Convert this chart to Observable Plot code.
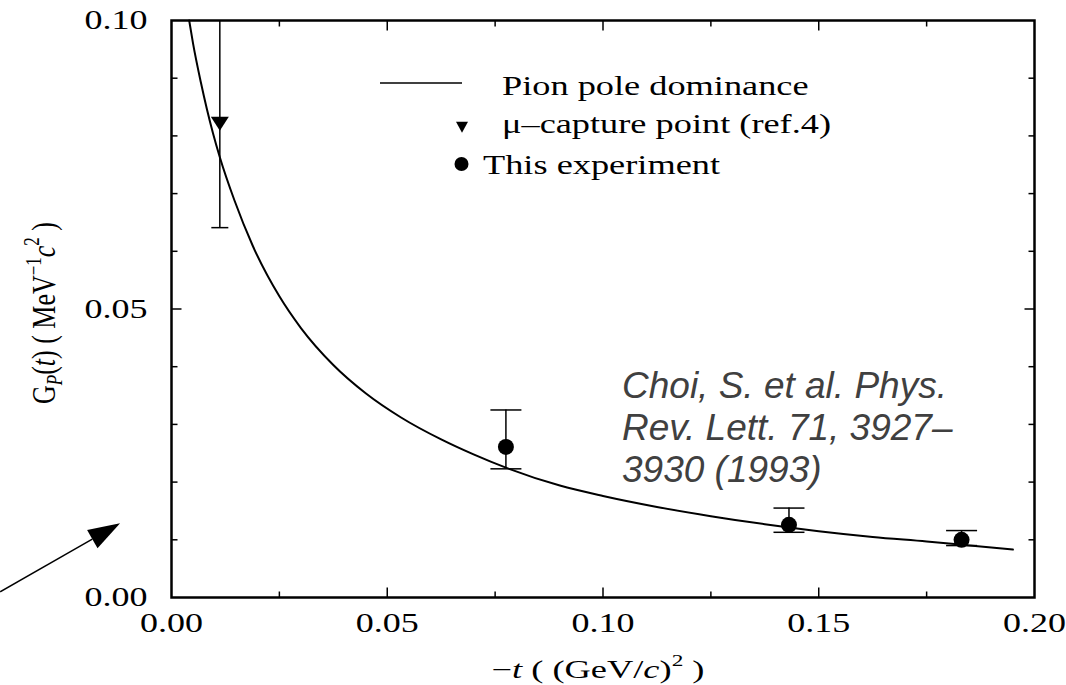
<!DOCTYPE html>
<html><head><meta charset="utf-8">
<script src="https://cdn.jsdelivr.net/npm/d3@7"></script>
<script src="https://cdn.jsdelivr.net/npm/@observablehq/plot@0.6"></script>
<style>
html,body{margin:0;padding:0;background:#fff;}
#chart{width:1066px;height:685px;overflow:hidden;}
</style></head><body><div id="chart"></div>
<script>
// ---- data ----
const curveX = [0.0041, 0.0050, 0.0068, 0.0096, 0.0112, 0.0146, 0.0188, 0.0250, 0.0300, 0.0375, 0.0450, 0.0532, 0.0625, 0.0700, 0.0775, 0.0900, 0.1000, 0.1125, 0.1250, 0.1375, 0.1500, 0.1625, 0.1750, 0.1850, 0.1950];
const curveY = [0.1000, 0.0960, 0.0893, 0.0805, 0.0763, 0.0688, 0.0610, 0.0522, 0.0467, 0.0403, 0.0354, 0.0312, 0.0274, 0.0248, 0.0225, 0.0194, 0.0176, 0.0157, 0.0141, 0.0127, 0.0115, 0.0105, 0.0097, 0.0090, 0.0083];

const muX  = [0.0112];
const muY  = [0.0825];
const muLo = [0.0641];
const muHi = [0.1004];

const expX  = [0.0775, 0.1431, 0.1831];
const expY  = [0.0261, 0.0126, 0.0100];
const expLo = [0.0223, 0.0113, 0.0090];
const expHi = [0.0325, 0.0155, 0.0116];

const xTicks = [0, 0.05, 0.10, 0.15, 0.20];
const yTicks = [0, 0.05, 0.10];
const xMajorInner = [0.05, 0.10, 0.15];
const xMinorInner = [0.025, 0.075, 0.125, 0.175];
const yMajorInner = [0.05];
const yMinorInner = [0.01, 0.02, 0.03, 0.04, 0.06, 0.07, 0.08, 0.09];

const legendLabels = ["Pion pole dominance", "\u03bc\u2013capture point (ref.4)", "This experiment"];
const citationLines = ["Choi, S. et al. Phys.", "Rev. Lett. 71, 3927\u2013", "3930 (1993)"];
const arrowX = [-0.0396, -0.0118];
const arrowY = [0.0009, 0.0128];

// ---- build ----
const serif = "'Liberation Serif', 'Times New Roman', serif";
const sans = "'Liberation Sans', Arial, sans-serif";
const fmt = d3.format(".2f");
const curve = curveX.map((x, i) => ({x, y: curveY[i]}));
const mu = muX.map((x, i) => ({x, y: muY[i], lo: muLo[i], hi: muHi[i]}));
const exp = expX.map((x, i) => ({x, y: expY[i], lo: expLo[i], hi: expHi[i]}));

const seg = (dx, dy) => ({draw(c) { c.moveTo(0, 0); c.lineTo(dx, dy); }});
const cap = hw => ({draw(c) { c.moveTo(-hw, 0); c.lineTo(hw, 0); }});
const invTri = (w, h) => ({draw(c) { c.moveTo(-w / 2, -h / 3); c.lineTo(w / 2, -h / 3); c.lineTo(0, 2 * h / 3); c.closePath(); }});
const tickOpts = {fill: "none", stroke: "black", strokeWidth: 1.5};

const annotations = (index, scales) => {
  const {x, y} = scales;
  const g = d3.create("svg:g");
  // arrow
  const x1 = x(arrowX[0]), y1 = y(arrowY[0]), x2 = x(arrowX[1]), y2 = y(arrowY[1]);
  const a = Math.atan2(y2 - y1, x2 - x1), L = 32, HW = 10.5;
  const bx = x2 - L * Math.cos(a), by = y2 - L * Math.sin(a);
  g.append("line").attr("x1", x1).attr("y1", y1).attr("x2", bx).attr("y2", by)
    .attr("stroke", "black").attr("stroke-width", 1.5);
  g.append("path").attr("fill", "black")
    .attr("d", `M${x2},${y2}L${bx - HW * Math.sin(a)},${by + HW * Math.cos(a)}L${bx + HW * Math.sin(a)},${by - HW * Math.cos(a)}Z`);

  // legend
  const lg = g.append("g").attr("font-family", serif).attr("font-size", 27).attr("fill", "black").attr("text-anchor", "start");
  lg.append("line").attr("x1", 380).attr("x2", 462).attr("y1", 83).attr("y2", 83).attr("stroke", "black").attr("stroke-width", 1.5);
  lg.append("path").attr("transform", "translate(462,125.5)")
    .attr("d", d3.symbol(invTri(12, 11))()).attr("fill", "black");
  lg.append("circle").attr("cx", 461.5).attr("cy", 164).attr("r", 7).attr("fill", "black");
  const lx = [502, 502, 483], ly = [95, 133, 174];
  legendLabels.forEach((t, i) => lg.append("text").attr("class", "legtext").attr("x", lx[i]).attr("y", ly[i]).text(t));

  // citation
  const cg = g.append("g").attr("font-family", sans).attr("font-style", "italic").attr("font-size", 37)
    .attr("fill", "#404040").attr("text-anchor", "start");
  citationLines.forEach((t, i) => cg.append("text").attr("x", 622).attr("y", 398 + i * 42).text(t));

  // y title
  const yt = g.append("text").attr("transform", "translate(55,313) rotate(-90) scale(1,1.3)")
    .attr("text-anchor", "middle").attr("font-family", serif).attr("font-size", 26).attr("fill", "black");
  yt.append("tspan").text("G");
  yt.append("tspan").attr("font-style", "italic").attr("font-size", 17).attr("dy", 5).text("P");
  yt.append("tspan").attr("dy", -5).text("(");
  yt.append("tspan").attr("font-style", "italic").text("t");
  yt.append("tspan").text(") ( MeV");
  yt.append("tspan").attr("font-size", 17).attr("dy", -11).text("\u22121");
  yt.append("tspan").attr("font-style", "italic").attr("dy", 11).text("c");
  yt.append("tspan").attr("font-size", 17).attr("dy", -12).text("2");
  yt.append("tspan").attr("dy", 12).text(" )");

  // x title
  const xt = g.append("text").attr("class", "xtitle").attr("x", 598).attr("y", 678)
    .attr("text-anchor", "middle").attr("font-family", serif).attr("font-size", 25).attr("fill", "black");
  xt.append("tspan").text("\u2212");
  xt.append("tspan").attr("font-style", "italic").text("t");
  xt.append("tspan").text(" ( (GeV/");
  xt.append("tspan").attr("font-style", "italic").text("c");
  xt.append("tspan").text(")");
  xt.append("tspan").attr("font-size", 16).attr("dy", -12).text("2");
  xt.append("tspan").attr("dy", 12).text(" )");
  return g.node();
};

const plot = Plot.plot({
  width: 1066, height: 685,
  marginLeft: 171, marginRight: 32, marginTop: 20, marginBottom: 88,
  style: {fontFamily: serif, fontSize: "28px", color: "black", background: "white"},
  x: {domain: [0, 0.2], ticks: xTicks, tickFormat: fmt, tickSize: 0, tickPadding: 15, label: null},
  y: {domain: [0, 0.1], ticks: yTicks, tickFormat: fmt, tickSize: 0, tickPadding: 24, label: null},
  marks: [
    // inner ticks on all four sides
    Plot.dot(yMinorInner, {x: () => 0, y: d => d, symbol: seg(6, 0), ...tickOpts}),
    Plot.dot(yMajorInner, {x: () => 0, y: d => d, symbol: seg(10, 0), ...tickOpts}),
    Plot.dot(yMinorInner, {x: () => 0.2, y: d => d, symbol: seg(-6, 0), ...tickOpts}),
    Plot.dot(yMajorInner, {x: () => 0.2, y: d => d, symbol: seg(-10, 0), ...tickOpts}),
    Plot.dot(xMinorInner, {x: d => d, y: () => 0, symbol: seg(0, -6), ...tickOpts}),
    Plot.dot(xMajorInner, {x: d => d, y: () => 0, symbol: seg(0, -10), ...tickOpts}),
    Plot.dot(xMinorInner, {x: d => d, y: () => 0.1, symbol: seg(0, 6), ...tickOpts}),
    Plot.dot(xMajorInner, {x: d => d, y: () => 0.1, symbol: seg(0, 10), ...tickOpts}),
    // pion pole curve
    Plot.line(curve, {x: "x", y: "y", curve: "monotone-x", stroke: "black", strokeWidth: 2}),
    // mu-capture point
    Plot.ruleX(mu, {x: "x", y1: "lo", y2: "hi", stroke: "black", strokeWidth: 1.5, clip: true}),
    Plot.dot(mu, {x: "x", y: "lo", symbol: cap(8.5), fill: "none", stroke: "black", strokeWidth: 1.5}),
    Plot.dot(mu, {x: "x", y: "y", symbol: invTri(18, 14), fill: "black", stroke: "none"}),
    // this experiment
    Plot.ruleX(exp, {x: "x", y1: "lo", y2: "hi", stroke: "black", strokeWidth: 1.5}),
    Plot.dot(exp, {x: "x", y: "lo", symbol: cap(15.5), fill: "none", stroke: "black", strokeWidth: 1.5}),
    Plot.dot(exp, {x: "x", y: "hi", symbol: cap(15.5), fill: "none", stroke: "black", strokeWidth: 1.5}),
    Plot.dot(exp, {x: "x", y: "y", r: 8, fill: "black", stroke: "none"}),
    Plot.frame({stroke: "black", strokeWidth: 2.5}),
    annotations
  ]
});
document.getElementById("chart").append(plot);

// the scanned figure's serif lettering is horizontally stretched
const labels = plot.querySelectorAll('[aria-label="x-axis tick label"] text, [aria-label="y-axis tick label"] text, g[aria-label="x-axis"] .tick text, g[aria-label="y-axis"] .tick text');
labels.forEach(t => { t.setAttribute("textLength", 63); t.setAttribute("lengthAdjust", "spacingAndGlyphs"); });
const legTexts = plot.querySelectorAll(".legtext");
const k = 237 / legTexts[2].getComputedTextLength();
legTexts.forEach(t => { t.setAttribute("textLength", t.getComputedTextLength() * k); t.setAttribute("lengthAdjust", "spacingAndGlyphs"); });
const xt = plot.querySelector(".xtitle");
xt.setAttribute("textLength", 213); xt.setAttribute("lengthAdjust", "spacingAndGlyphs");
</script></body></html>
